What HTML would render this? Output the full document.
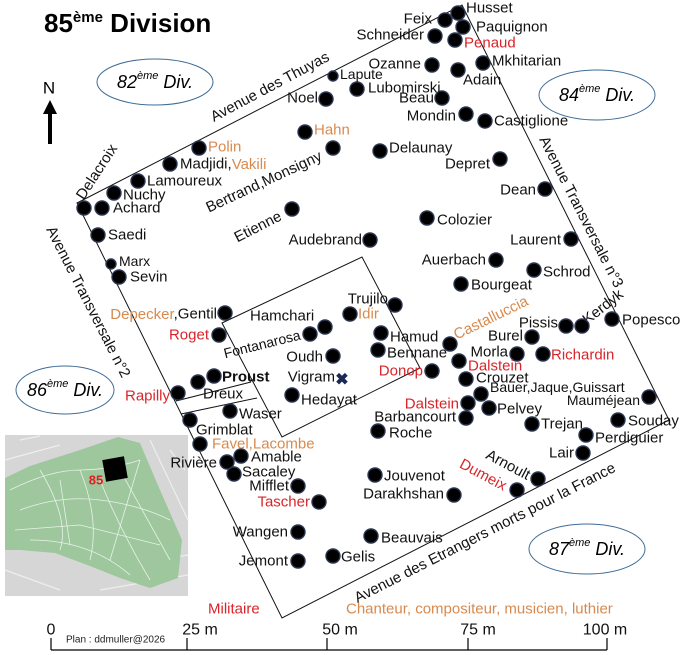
<!DOCTYPE html>
<html><head><meta charset="utf-8"><style>
html,body{margin:0;padding:0;background:#fff;}
svg{display:block;font-family:"Liberation Sans",Arial,sans-serif;}
.l{font-size:15px;fill:#111;dominant-baseline:central;}
.r{fill:#d9252a;}
.o{fill:#d88a4e;}
.e{text-anchor:end;}
.d{fill:#000;stroke:#2a3550;stroke-width:1.4;}
</style></head><body>
<svg width="688" height="655" viewBox="0 0 688 655" xmlns="http://www.w3.org/2000/svg">
<rect width="688" height="655" fill="#fff"/>
<!-- title -->
<text x="44" y="32" font-size="26" font-weight="bold" fill="#000">85<tspan font-size="15" dy="-10">ème</tspan><tspan dy="10"> Division</tspan></text>
<!-- north -->
<text x="49" y="88" font-size="17" text-anchor="middle" dominant-baseline="central">N</text>
<line x1="50" y1="144" x2="50" y2="112" stroke="#000" stroke-width="4"/>
<polygon points="43,114 57,114 50,100" fill="#000"/>
<!-- inset map -->
<rect x="5" y="435" width="183" height="161" fill="#d6d6d6"/>
<g stroke="#eee" stroke-width="1.2" fill="none">
<path d="M5,460 L60,445 M5,500 L30,495 M150,440 L188,520 M160,560 L188,555 M5,570 L60,590 M100,590 L188,575 M20,440 L40,436 M170,450 L185,470"/>
</g>
<polygon points="5,478 30,466 80,450 118,437 140,443 160,490 182,540 178,578 150,588 120,578 90,566 55,553 20,550 5,550" fill="#9ec79e"/>
<g stroke="#e8f2e8" stroke-width="0.8" fill="none">
<path d="M10,490 Q50,470 80,470 T140,460 M20,510 Q60,495 100,500 T170,520 M15,530 L80,525 L160,545 M40,470 Q70,520 60,550 M80,470 Q100,520 90,560 M100,480 Q120,530 150,580 M120,470 L170,560 M140,460 L110,560 M30,540 Q90,540 130,575 M60,480 L70,545"/>
</g>
<rect x="104" y="458" width="22" height="22" fill="#000" transform="rotate(-10 115 469)"/>
<text x="96" y="480" font-size="13" font-weight="bold" fill="#e02020" text-anchor="middle" dominant-baseline="central">85</text>
<!-- ellipses -->
<g fill="none" stroke="#3f6c96" stroke-width="1">
<ellipse cx="155" cy="82" rx="58" ry="23"/>
<ellipse cx="597" cy="95" rx="58" ry="25"/>
<ellipse cx="65" cy="390" rx="49" ry="24"/>
<ellipse cx="587" cy="549" rx="58" ry="25"/>
</g>
<g font-size="18" font-style="italic" text-anchor="middle" dominant-baseline="central">
<text x="155" y="82">82<tspan font-size="11" dy="-6">ème</tspan><tspan dy="6"> Div.</tspan></text>
<text x="597" y="95">84<tspan font-size="11" dy="-6">ème</tspan><tspan dy="6"> Div.</tspan></text>
<text x="65" y="390">86<tspan font-size="11" dy="-6">ème</tspan><tspan dy="6"> Div.</tspan></text>
<text x="587" y="549">87<tspan font-size="11" dy="-6">ème</tspan><tspan dy="6"> Div.</tspan></text>
</g>
<!-- outlines -->
<g fill="none" stroke="#111" stroke-width="1">
<polygon points="77,203 462,5 669,420 282,618"/>
<polygon points="222,323 362,257 420,368 282,437"/>
<line x1="176" y1="401" x2="251" y2="382"/>
<line x1="181" y1="414" x2="257" y2="398"/>
</g>
<!-- avenue labels -->
<g class="l">
<text transform="translate(270,87) rotate(-28)" text-anchor="middle">Avenue des Thuyas</text>
<text transform="translate(97,172) rotate(-57)" text-anchor="middle">Delacroix</text>
<text transform="translate(264,182) rotate(-25)" text-anchor="middle">Bertrand,Monsigny</text>
<text transform="translate(258,227) rotate(-27)" text-anchor="middle">Etienne</text>
<text transform="translate(88,302) rotate(63)" text-anchor="middle">Avenue Transversale n°2</text>
<text transform="translate(581,212) rotate(63)" text-anchor="middle">Avenue Transversale n°3</text>
<text transform="translate(485,533) rotate(-27)" text-anchor="middle">Avenue des Etrangers morts pour la France</text>
<text transform="translate(603,307) rotate(-38)" text-anchor="middle">Kerdyk</text>
<text class="o" transform="translate(491,318) rotate(-26)" text-anchor="middle">Castalluccia</text>
<text transform="translate(262,344) rotate(-14)" text-anchor="middle" font-size="14">Fontanarosa</text>
<text transform="translate(508,465) rotate(28)" text-anchor="middle">Arnoult</text>
<text class="r" transform="translate(483,475) rotate(28)" text-anchor="middle">Dumeix</text>
</g>
<!-- dots -->
<g class="d">
<circle cx="458" cy="13" r="7"/><circle cx="445" cy="20" r="7"/><circle cx="463" cy="27" r="7"/>
<circle cx="435" cy="36" r="7"/><circle cx="455" cy="40" r="7"/><circle cx="432" cy="65" r="7"/>
<circle cx="458" cy="70" r="7"/><circle cx="483" cy="63" r="7"/><circle cx="333" cy="76" r="5"/>
<circle cx="357" cy="89" r="7"/><circle cx="326" cy="99" r="7"/><circle cx="442" cy="98" r="7"/>
<circle cx="466" cy="114" r="7"/><circle cx="485" cy="121" r="7"/><circle cx="305" cy="132" r="7"/>
<circle cx="333" cy="148" r="7"/><circle cx="380" cy="151" r="7"/><circle cx="500" cy="159" r="7"/>
<circle cx="199" cy="148" r="7"/><circle cx="170" cy="164" r="7"/><circle cx="138" cy="181" r="7"/>
<circle cx="114" cy="193" r="7"/><circle cx="102" cy="208" r="7"/><circle cx="84" cy="208" r="7"/>
<circle cx="545" cy="189" r="7"/><circle cx="292" cy="209" r="7"/><circle cx="427" cy="218" r="7"/>
<circle cx="370" cy="240" r="7"/><circle cx="98" cy="235" r="7"/><circle cx="571" cy="239" r="7"/>
<circle cx="111" cy="264" r="5"/><circle cx="119" cy="277" r="7"/><circle cx="496" cy="260" r="7"/>
<circle cx="534" cy="270" r="7"/><circle cx="461" cy="284" r="7"/>
<circle cx="566" cy="326" r="7"/><circle cx="582" cy="326" r="7"/><circle cx="612" cy="319" r="7"/>
<circle cx="395" cy="305" r="7"/><circle cx="350" cy="314" r="7"/><circle cx="225" cy="313" r="7"/>
<circle cx="325" cy="327" r="7"/><circle cx="310" cy="334" r="7"/><circle cx="219" cy="335" r="7"/>
<circle cx="381" cy="333" r="7"/><circle cx="378" cy="350" r="7"/><circle cx="532" cy="337" r="7"/>
<circle cx="333" cy="356" r="7"/><circle cx="517" cy="354" r="7"/><circle cx="543" cy="354" r="7"/>
<circle cx="450" cy="344" r="7"/><circle cx="459" cy="361" r="7"/><circle cx="432" cy="371" r="7"/>
<circle cx="214" cy="376" r="7"/><circle cx="198" cy="382" r="7"/><circle cx="178" cy="393" r="7"/>
<circle cx="292" cy="395" r="7"/><circle cx="466" cy="379" r="7"/><circle cx="481" cy="394" r="7"/>
<circle cx="649" cy="397" r="7"/><circle cx="468" cy="403" r="7"/><circle cx="489" cy="408" r="7"/>
<circle cx="466" cy="418" r="7"/><circle cx="230" cy="411" r="7"/><circle cx="190" cy="420" r="7"/>
<circle cx="532" cy="424" r="7"/><circle cx="618" cy="420" r="7"/><circle cx="378" cy="431" r="7"/>
<circle cx="586" cy="435" r="7"/><circle cx="200" cy="444" r="7"/><circle cx="583" cy="453" r="7"/>
<circle cx="227" cy="462" r="7"/><circle cx="241" cy="456" r="7"/><circle cx="234" cy="474" r="7"/>
<circle cx="538" cy="479" r="7"/><circle cx="517" cy="490" r="7"/><circle cx="375" cy="475" r="7"/>
<circle cx="298" cy="486" r="7"/><circle cx="454" cy="495" r="7"/><circle cx="319" cy="502" r="7"/>
<circle cx="298" cy="532" r="7"/><circle cx="371" cy="536" r="7"/><circle cx="298" cy="561" r="7"/>
<circle cx="333" cy="556" r="7"/>
</g>
<text x="342" y="380" font-size="16" text-anchor="middle" dominant-baseline="central" fill="#1a2a55" font-weight="bold">✖</text>
<!-- labels -->
<g class="l">
<text x="466" y="8">Husset</text>
<text x="432" y="19" class="e">Feix</text>
<text x="476" y="27">Paquignon</text>
<text x="424" y="35" class="e">Schneider</text>
<text x="464" y="43" class="r">Penaud</text>
<text x="421" y="64" class="e">Ozanne</text>
<text x="463" y="80">Adain</text>
<text x="492" y="61">Mkhitarian</text>
<text x="340" y="74" font-size="14">Lapute</text>
<text x="368" y="88">Lubomirski</text>
<text x="318" y="98" class="e">Noel</text>
<text x="434" y="98" class="e">Beau</text>
<text x="456" y="116" class="e">Mondin</text>
<text x="494" y="121">Castiglione</text>
<text x="314" y="130" class="o">Hahn</text>
<text x="389" y="148">Delaunay</text>
<text x="490" y="164" class="e">Depret</text>
<text x="208" y="147" class="o">Polin</text>
<text x="180" y="164">Madjidi,<tspan class="o">Vakili</tspan></text>
<text x="147" y="181">Lamoureux</text>
<text x="123" y="195">Nuchy</text>
<text x="113" y="208">Achard</text>
<text x="536" y="190" class="e">Dean</text>
<text x="437" y="220">Colozier</text>
<text x="362" y="240" class="e">Audebrand</text>
<text x="108" y="235">Saedi</text>
<text x="561" y="240" class="e">Laurent</text>
<text x="119" y="261" font-size="14">Marx</text>
<text x="130" y="277">Sevin</text>
<text x="486" y="260" class="e">Auerbach</text>
<text x="543" y="272">Schrod</text>
<text x="471" y="285">Bourgeat</text>
<text x="558" y="323" class="e">Pissis</text>
<text x="622" y="320">Popesco</text>
<text x="388" y="299" class="e">Trujilo</text>
<text x="358" y="314" class="o">Idir</text>
<text x="217" y="314" class="e"><tspan class="o">Depecker</tspan>,Gentil</text>
<text x="250" y="316">Hamchari</text>
<text x="209" y="335" class="e r">Roget</text>
<text x="390" y="337">Hamud</text>
<text x="387" y="353">Bennane</text>
<text x="523" y="336" class="e">Burel</text>
<text x="323" y="357" class="e">Oudh</text>
<text x="508" y="352" class="e">Morla</text>
<text x="551" y="355" class="r">Richardin</text>
<text x="468" y="366" class="r">Dalstein</text>
<text x="423" y="371" class="e r">Donop</text>
<text x="222" y="377" font-weight="bold">Proust</text>
<text x="335" y="377" class="e">Vigram</text>
<text x="170" y="396" class="e r">Rapilly</text>
<text x="203" y="394">Dreux</text>
<text x="301" y="400">Hedayat</text>
<text x="476" y="378">Crouzet</text>
<text x="490" y="387" font-size="14">Bauer,Jaque,Guissart</text>
<text x="640" y="400" class="e" font-size="14">Mauméjean</text>
<text x="459" y="404" class="e r">Dalstein</text>
<text x="497" y="409">Pelvey</text>
<text x="456" y="417" class="e">Barbancourt</text>
<text x="239" y="414">Waser</text>
<text x="196" y="430">Grimblat</text>
<text x="541" y="424">Trejan</text>
<text x="628" y="421">Souday</text>
<text x="389" y="433">Roche</text>
<text x="595" y="438">Perdiguier</text>
<text x="212" y="444" class="o">Favel,Lacombe</text>
<text x="574" y="453" class="e">Lair</text>
<text x="217" y="463" class="e">Rivière</text>
<text x="251" y="457">Amable</text>
<text x="242" y="472">Sacaley</text>
<text x="384" y="476">Jouvenot</text>
<text x="289" y="486" class="e">Mifflet</text>
<text x="444" y="494" class="e">Darakhshan</text>
<text x="310" y="502" class="e r">Tascher</text>
<text x="288" y="532" class="e">Wangen</text>
<text x="381" y="538">Beauvais</text>
<text x="288" y="561" class="e">Jemont</text>
<text x="341" y="557">Gelis</text>
<text x="208" y="609" class="r">Militaire</text>
<text x="346" y="609" class="o">Chanteur, compositeur, musicien, luthier</text>
</g>
<!-- scale -->
<g stroke="#000" stroke-width="1.2">
<line x1="51" y1="650" x2="607" y2="650"/>
<line x1="51" y1="638" x2="51" y2="650"/>
<line x1="187" y1="638" x2="187" y2="650"/>
<line x1="327" y1="638" x2="327" y2="650"/>
<line x1="468" y1="638" x2="468" y2="650"/>
<line x1="607" y1="638" x2="607" y2="650"/>
</g>
<g font-size="16" text-anchor="middle" dominant-baseline="central" fill="#111">
<text x="51" y="630">0</text><text x="200" y="630">25 m</text><text x="340" y="630">50 m</text><text x="478" y="630">75 m</text><text x="605" y="630">100 m</text>
</g>
<text x="66" y="640" font-size="10" fill="#222" dominant-baseline="central">Plan : ddmuller@2026</text>
</svg>
</body></html>
